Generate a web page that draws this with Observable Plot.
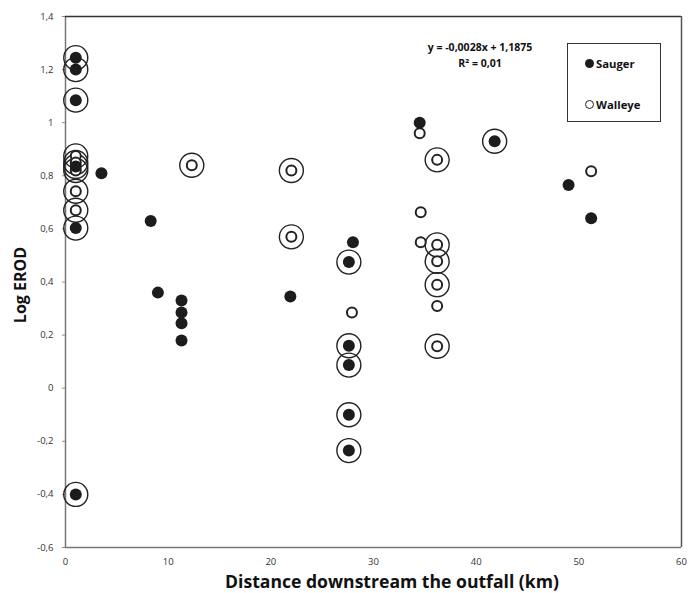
<!DOCTYPE html>
<html><head><meta charset="utf-8">
<script src="https://cdn.jsdelivr.net/npm/d3@7"></script>
<script src="https://cdn.jsdelivr.net/npm/@observablehq/plot@0.6"></script>
<style>
body{margin:0;background:#fff;}
#wrap{position:relative;width:695px;height:593px;font-family:"Open Sans",sans-serif;}
.xt{position:absolute;left:192px;width:400px;top:572px;height:18px;line-height:18px;text-align:center;font-weight:700;font-size:17.6px;color:#111;white-space:nowrap;}
.yt{position:absolute;left:20px;top:285px;transform:translate(-50%,-50%) rotate(-90deg);font-weight:700;font-size:16px;color:#111;white-space:nowrap;}
.eq{position:absolute;left:400px;width:160px;top:39px;text-align:center;font-weight:700;font-size:10.5px;line-height:16px;color:#111;white-space:nowrap;}
.leg{position:absolute;left:567px;top:43px;width:94px;height:79px;border:1.5px solid #333;box-sizing:border-box;font-weight:700;font-size:11.3px;color:#111;}
.li{position:absolute;left:17px;display:flex;align-items:center;height:16px;}
.mk{display:inline-block;width:9px;height:9px;border-radius:50%;box-sizing:border-box;margin-right:2px;}
</style></head><body><div id="wrap"></div>
<script>
// Sauger (filled)
const saugerKm       = [1.0, 1.0, 1.0, 1.0, 1.0, 1.0, 3.5, 8.3, 9.0, 11.3, 11.3, 11.3, 11.3, 21.9, 28.0, 27.6, 27.6, 27.6, 27.6, 27.6, 34.5, 41.8, 49.0, 51.2];
const saugerLogErod  = [1.245, 1.2, 1.085, 0.835, 0.603, -0.40, 0.81, 0.63, 0.36, 0.33, 0.285, 0.245, 0.18, 0.345, 0.55, 0.475, 0.16, 0.087, -0.10, -0.235, 1.0, 0.93, 0.765, 0.64];
const saugerCircled  = [true, true, true, true, true, true, false, false, false, false, false, false, false, false, false, true, true, true, true, true, false, true, false, false];
// Walleye (open)
const walleyeKm      = [1.0, 1.0, 1.0, 1.0, 1.0, 12.3, 22.0, 22.0, 27.9, 34.5, 34.6, 34.6, 36.2, 36.2, 36.2, 36.2, 36.2, 36.2, 51.2];
const walleyeLogErod = [0.875, 0.85, 0.82, 0.742, 0.67, 0.84, 0.82, 0.57, 0.285, 0.96, 0.663, 0.55, 0.86, 0.54, 0.478, 0.39, 0.31, 0.158, 0.817];
const walleyeCircled = [true, true, true, true, true, true, true, true, false, false, false, false, true, true, true, true, false, true, false];
// Axis ticks
const xTicks = [0, 10, 20, 30, 40, 50, 60];
const xTickLabels = ["0", "10", "20", "30", "40", "50", "60"];
const yTicks = [-0.6, -0.4, -0.2, 0, 0.2, 0.4, 0.6, 0.8, 1, 1.2, 1.4];
const yTickLabels = ["-0,6", "-0,4", "-0,2", "0", "0,2", "0,4", "0,6", "0,8", "1", "1,2", "1,4"];
const xTitle = "Distance downstream the outfall (km)";
const yTitle = "Log EROD";
const eqLines = ["y = -0,0028x + 1,1875", "R² = 0,01"];
const seriesNames = ["Sauger", "Walleye"];

const sauger = saugerKm.map((x, i) => ({x, y: saugerLogErod[i], ring: saugerCircled[i]}));
const walleye = walleyeKm.map((x, i) => ({x, y: walleyeLogErod[i], ring: walleyeCircled[i]}));
const ringed = sauger.concat(walleye).filter(d => d.ring);

const chart = Plot.plot({
  width: 695, height: 593,
  marginLeft: 65, marginRight: 14, marginTop: 16, marginBottom: 46,
  style: {fontFamily: "Open Sans", fontSize: "9.5px", color: "#333", background: "#fff"},
  x: {domain: [0, 60]},
  y: {domain: [-0.6, 1.4]},
  marks: [
    Plot.ruleX([0], {stroke: "#777", strokeWidth: 1.5}),
    Plot.ruleY([-0.6], {stroke: "#777", strokeWidth: 1.5}),
    Plot.ruleY([1.4], {stroke: "#333", strokeWidth: 1.5}),
    Plot.ruleX([60], {stroke: "#555", strokeWidth: 1.5}),
    Plot.axisX({ticks: xTicks, tickFormat: d => xTickLabels[xTicks.indexOf(d)], tickSize: 0, tickPadding: 11, label: null}),
    Plot.axisY({ticks: yTicks, tickFormat: d => yTickLabels[yTicks.indexOf(d)], tickSize: 3, tickPadding: 9, label: null, stroke: "#888"}),
    Plot.dot(ringed, {x: "x", y: "y", r: 12, stroke: "#222", strokeWidth: 1.4, fill: "none"}),
    Plot.dot(walleye, {x: "x", y: "y", r: 5, stroke: "#222", strokeWidth: 2, fill: "#fff"}),
    Plot.dot(sauger, {x: "x", y: "y", r: 6, fill: "#1c1c1c", stroke: "none"})
  ]
});

const wrap = document.getElementById("wrap");
wrap.appendChild(chart);
const xt = document.createElement("div"); xt.className = "xt"; xt.textContent = xTitle; wrap.appendChild(xt);
const yt = document.createElement("div"); yt.className = "yt"; yt.textContent = yTitle; wrap.appendChild(yt);
const eq = document.createElement("div"); eq.className = "eq"; eq.innerHTML = eqLines.join("<br>"); wrap.appendChild(eq);
const leg = document.createElement("div"); leg.className = "leg";
seriesNames.forEach((n, i) => {
  const li = document.createElement("div"); li.className = "li"; li.style.top = (i === 0 ? 11 : 52) + "px";
  const mk = document.createElement("span"); mk.className = "mk";
  if (i === 0) { mk.style.background = "#1c1c1c"; } else { mk.style.border = "1.8px solid #222"; mk.style.background = "#fff"; }
  li.appendChild(mk);
  const t = document.createElement("span"); t.textContent = n; li.appendChild(t);
  leg.appendChild(li);
});
wrap.appendChild(leg);
</script>
</body></html>
